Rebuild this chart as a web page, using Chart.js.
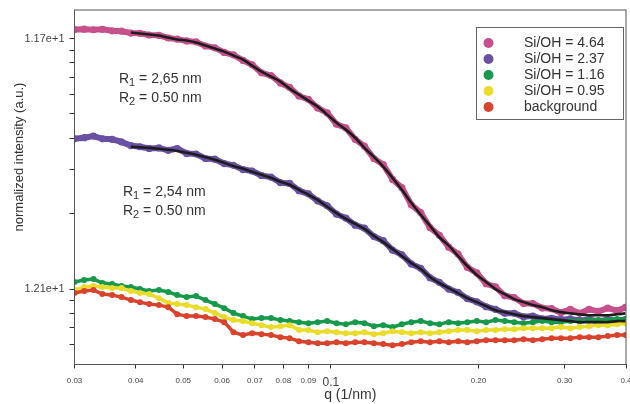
<!DOCTYPE html>
<html>
<head>
<meta charset="utf-8">
<script src="https://cdn.jsdelivr.net/npm/chart.js@4.4.0/dist/chart.umd.min.js"></script>
<style>
  html, body { margin: 0; padding: 0; background: #fff; }
  #wrap { width: 630px; height: 404px; }
</style>
</head>
<body>
<div id="wrap"><canvas id="chart" width="630" height="404"></canvas></div>
<script>
// scattering vector q (1/nm), shared by every curve
const q = [0.0300, 0.0314, 0.0328, 0.0342, 0.0358, 0.0374, 0.0391, 0.0408, 0.0426, 0.0446,
  0.0466, 0.0486, 0.0508, 0.0531, 0.0555, 0.0580, 0.0606, 0.0633, 0.0662, 0.0691,
  0.0722, 0.0755, 0.0789, 0.0824, 0.0861, 0.0900, 0.0940, 0.0983, 0.1027, 0.1073,
  0.1121, 0.1171, 0.1224, 0.1279, 0.1336, 0.1396, 0.1459, 0.1525, 0.1593, 0.1665,
  0.1740, 0.1818, 0.1899, 0.1985, 0.2074, 0.2167, 0.2264, 0.2366, 0.2472, 0.2583,
  0.2699, 0.2821, 0.2947, 0.3080, 0.3218, 0.3363, 0.3514, 0.3672, 0.3837, 0.3990];

// measured intensities
const si464 = [10.86, 10.90, 10.84, 10.88, 10.74, 10.70, 10.52, 10.50, 10.33, 10.30,
  10.05, 9.95, 9.78, 9.70, 9.34, 9.18, 8.80, 8.60, 8.18, 7.86,
  7.30, 7.12, 6.65, 6.38, 5.90, 5.72, 5.28, 5.05, 4.55, 4.40,
  3.96, 3.72, 3.32, 3.14, 2.74, 2.54, 2.17, 2.02, 1.76, 1.64,
  1.47, 1.38, 1.22, 1.16, 1.05, 1.02, 0.94, 0.925, 0.875, 0.875,
  0.84, 0.835, 0.805, 0.83, 0.80, 0.83, 0.815, 0.84, 0.82, 0.845];
const si237 = [3.98, 4.02, 4.08, 3.98, 3.96, 3.87, 3.74, 3.70, 3.64, 3.66,
  3.58, 3.64, 3.48, 3.46, 3.32, 3.30, 3.17, 3.12, 3.00, 2.96,
  2.84, 2.80, 2.66, 2.64, 2.47, 2.40, 2.25, 2.15, 1.99, 1.92,
  1.80, 1.75, 1.62, 1.56, 1.43, 1.37, 1.26, 1.21, 1.11, 1.065,
  1.00, 0.97, 0.915, 0.89, 0.85, 0.83, 0.80, 0.80, 0.775, 0.78,
  0.76, 0.765, 0.755, 0.76, 0.75, 0.755, 0.745, 0.755, 0.75, 0.755];
const si116 = [1.067, 1.086, 1.096, 1.057, 1.047, 1.028, 1.019, 1.000, 0.982, 0.991,
  0.973, 0.946, 0.929, 0.938, 0.904, 0.871, 0.839, 0.802, 0.780, 0.759,
  0.766, 0.766, 0.752, 0.745, 0.738, 0.731, 0.738, 0.745, 0.731, 0.724,
  0.738, 0.731, 0.711, 0.718, 0.705, 0.724, 0.738, 0.745, 0.731, 0.724,
  0.738, 0.731, 0.738, 0.745, 0.738, 0.752, 0.745, 0.738, 0.731, 0.738,
  0.745, 0.738, 0.738, 0.745, 0.745, 0.752, 0.752, 0.752, 0.759, 0.759];
const si095 = [0.991, 1.019, 1.028, 1.019, 1.009, 1.009, 0.982, 0.964, 0.955, 0.920,
  0.879, 0.871, 0.863, 0.847, 0.832, 0.802, 0.773, 0.752, 0.745, 0.731,
  0.718, 0.705, 0.711, 0.718, 0.686, 0.686, 0.673, 0.679, 0.673, 0.667,
  0.667, 0.673, 0.661, 0.667, 0.679, 0.673, 0.667, 0.673, 0.667, 0.673,
  0.679, 0.686, 0.686, 0.679, 0.686, 0.686, 0.692, 0.692, 0.698, 0.698,
  0.698, 0.698, 0.705, 0.698, 0.705, 0.711, 0.718, 0.718, 0.724, 0.731];
const background = [0.964, 0.982, 0.991, 0.955, 0.946, 0.929, 0.904, 0.887, 0.871, 0.863,
  0.847, 0.794, 0.780, 0.780, 0.773, 0.759, 0.738, 0.673, 0.655, 0.667,
  0.661, 0.655, 0.643, 0.637, 0.619, 0.614, 0.608, 0.608, 0.614, 0.608,
  0.614, 0.614, 0.608, 0.603, 0.597, 0.603, 0.614, 0.619, 0.614, 0.619,
  0.614, 0.619, 0.614, 0.619, 0.625, 0.625, 0.625, 0.625, 0.631, 0.625,
  0.631, 0.637, 0.637, 0.637, 0.643, 0.643, 0.643, 0.649, 0.655, 0.655];

// model fits (no fit below q = 0.039)
const fit464 = [null, null, null, null, null, null, 10.57, 10.47, 10.38, 10.28,
  10.09, 9.91, 9.82, 9.64, 9.38, 9.12, 8.87, 8.55, 8.24, 7.80,
  7.38, 7.05, 6.73, 6.31, 5.97, 5.65, 5.35, 4.97, 4.61, 4.33,
  4.02, 3.66, 3.37, 3.08, 2.78, 2.49, 2.21, 1.98, 1.79, 1.61,
  1.49, 1.355, 1.236, 1.138, 1.067, 1.000, 0.955, 0.912, 0.887, 0.863,
  0.847, 0.824, 0.809, 0.800, 0.793, 0.786, 0.786, 0.786, 0.793, 0.800];
const fit237 = [null, null, null, null, null, null, 3.70, 3.68, 3.66, 3.63,
  3.60, 3.56, 3.50, 3.44, 3.36, 3.28, 3.19, 3.10, 3.02, 2.94,
  2.86, 2.78, 2.68, 2.61, 2.49, 2.38, 2.27, 2.13, 2.01, 1.905,
  1.82, 1.738, 1.63, 1.54, 1.445, 1.355, 1.27, 1.202, 1.117, 1.057,
  1.009, 0.964, 0.920, 0.887, 0.855, 0.824, 0.809, 0.794, 0.780, 0.773,
  0.766, 0.759, 0.752, 0.745, 0.738, 0.738, 0.738, 0.738, 0.745, 0.745];

const seriesNames = ['Si/OH = 4.64', 'Si/OH = 2.37', 'Si/OH = 1.16', 'Si/OH = 0.95', 'background'];
const seriesColors = ['#c5508b', '#6a50a2', '#16994a', '#e9dc2a', '#d9432b'];

const xTicks = [0.03, 0.04, 0.05, 0.06, 0.07, 0.08, 0.09, 0.1, 0.2, 0.3, 0.4];
const xTickLabels = ['0.03', '0.04', '0.05', '0.06', '0.07', '0.08', '0.09', '0.1', '0.20', '0.30', '0.4'];
const yTicks = [0.6, 0.7, 0.8, 0.9, 1, 2, 3, 4, 5, 6, 7, 8, 9, 10];
const yTickLabels = { 1: '1.21e+1', 10: '1.17e+1' };

const fitNotes = [['2,65', '0.50'], ['2,54', '0.50']];

Chart.defaults.font.family = "'Liberation Sans', Arial, sans-serif";
Chart.defaults.color = '#444';

function points(values) {
  return q.map((x, i) => ({ x: x, y: values[i] })).filter(p => p.y !== null);
}

const allSeries = [si464, si237, si116, si095, background];
const datasets = allSeries.map((values, i) => ({
  label: seriesNames[i],
  data: points(values),
  showLine: true,
  borderColor: seriesColors[i],
  backgroundColor: seriesColors[i],
  borderWidth: i < 2 ? 6 : 3.5,
  pointRadius: i < 2 ? 3.6 : 3,
  pointBorderWidth: 0,
  tension: 0,
  order: 5 - i
}));

[fit464, fit237].forEach(values => {
  datasets.push({
    label: 'fit',
    data: points(values),
    showLine: true,
    borderColor: '#1c1c1c',
    borderWidth: 2.6,
    pointRadius: 0,
    tension: 0.3,
    order: 0
  });
});

const extras = {
  id: 'extras',
  afterDraw(chart) {
    const ctx = chart.ctx;
    const area = chart.chartArea;
    ctx.save();

    // frame
    ctx.strokeStyle = '#555';
    ctx.lineWidth = 1;
    ctx.strokeRect(area.left, area.top, area.right - area.left, area.bottom - area.top);

    // legend box
    ctx.fillStyle = '#fff';
    ctx.fillRect(476.5, 27.5, 147, 92);
    ctx.strokeStyle = '#666';
    ctx.strokeRect(476.5, 27.5, 147, 92);
    ctx.font = "14px 'Liberation Sans', Arial, sans-serif";
    ctx.textBaseline = 'middle';
    seriesNames.forEach((name, i) => {
      const y = 43 + i * 16;
      ctx.fillStyle = seriesColors[i];
      ctx.beginPath();
      ctx.arc(488.5, y, 5, 0, Math.PI * 2);
      ctx.fill();
      ctx.fillStyle = '#333';
      ctx.fillText(name, 524, y);
    });

    // fit parameters
    function radius(x, y, sub, val) {
      ctx.font = "14px 'Liberation Sans', Arial, sans-serif";
      ctx.fillText('R', x, y);
      let w = ctx.measureText('R').width;
      ctx.font = "11px 'Liberation Sans', Arial, sans-serif";
      ctx.fillText(sub, x + w, y + 4);
      w += ctx.measureText(sub).width;
      ctx.font = "14px 'Liberation Sans', Arial, sans-serif";
      ctx.fillText(' = ' + val + ' nm', x + w, y);
    }
    ctx.fillStyle = '#333';
    radius(119, 79, '1', fitNotes[0][0]);
    radius(119, 98, '2', fitNotes[0][1]);
    radius(123, 192, '1', fitNotes[1][0]);
    radius(123, 211, '2', fitNotes[1][1]);

    // y title
    ctx.translate(19, 157);
    ctx.rotate(-Math.PI / 2);
    ctx.textAlign = 'center';
    ctx.font = "13px 'Liberation Sans', Arial, sans-serif";
    ctx.fillText('normalized intensity (a.u.)', 0, 0);
    ctx.restore();
  }
};

new Chart(document.getElementById('chart'), {
  type: 'scatter',
  data: { datasets: datasets },
  options: {
    responsive: false,
    animation: false,
    devicePixelRatio: 1,
    layout: { padding: { top: 10, right: 2, left: 0, bottom: 0 } },
    plugins: { legend: { display: false }, tooltip: { enabled: false } },
    scales: {
      x: {
        type: 'logarithmic',
        min: 0.03,
        max: 0.4,
        afterBuildTicks: axis => { axis.ticks = xTicks.map(v => ({ value: v })); },
        afterFit: axis => { axis.height = 39.5; axis.paddingLeft = 0; axis.paddingRight = 0; },
        border: { color: '#333', width: 1 },
        grid: { drawOnChartArea: false, tickLength: 4, tickColor: '#333' },
        ticks: {
          autoSkip: false,
          maxRotation: 0,
          padding: 7,
          color: '#444',
          font: c => (c.tick && c.tick.value === 0.1) ? { size: 12 } : { size: 8 },
          callback: (value, index) => xTickLabels[index]
        },
        title: {
          display: true,
          text: 'q (1/nm)',
          color: '#333',
          font: { size: 14 },
          padding: { top: 2, bottom: 0 }
        }
      },
      y: {
        type: 'logarithmic',
        min: 0.5,
        max: 13,
        afterBuildTicks: axis => { axis.ticks = yTicks.map(v => ({ value: v })); },
        afterFit: axis => { axis.width = 74.5; axis.paddingTop = 0; axis.paddingBottom = 0; },
        border: { color: '#333', width: 1 },
        grid: { drawOnChartArea: false, tickLength: 5, tickColor: '#333' },
        ticks: {
          autoSkip: false,
          padding: 5,
          color: '#444',
          font: { size: 11 },
          callback: value => yTickLabels[value] || ''
        }
      }
    }
  },
  plugins: [extras]
});
</script>
</body>
</html>
